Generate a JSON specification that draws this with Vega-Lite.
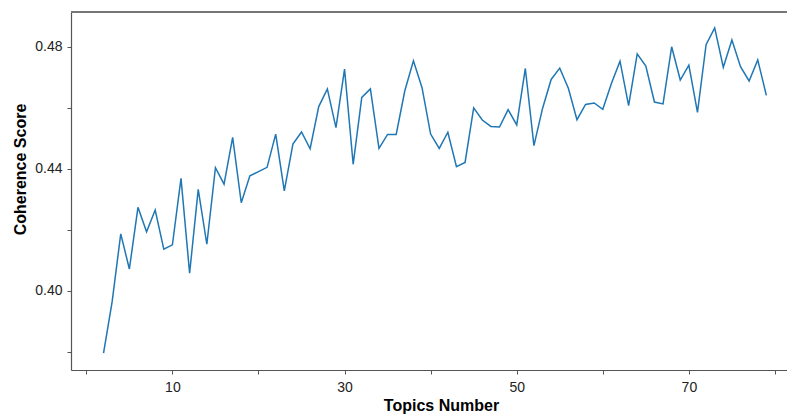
{
  "$schema": "https://vega.github.io/schema/vega-lite/v6.json",
  "autosize": {"type": "none"},
  "padding": {"left": 71, "top": 12, "right": 0, "bottom": 44},
  "width": 716,
  "height": 358,
  "background": "white",
  "config": {
    "view": {"stroke": null},
    "font": "Liberation Sans",
    "axis": {
      "grid": false,
      "domainColor": "#555555",
      "domainWidth": 1.2,
      "tickColor": "#555555",
      "tickWidth": 1,
      "tickSize": 4,
      "labelFont": "Liberation Sans",
      "labelFontSize": 14,
      "labelColor": "#222222",
      "titleFont": "Liberation Sans",
      "titleFontSize": 16,
      "titleFontWeight": "bold",
      "titleColor": "#000000"
    }
  },
  "data": {
    "values": [
      {"topics": 2, "coherence": 0.3796},
      {"topics": 3, "coherence": 0.3965},
      {"topics": 4, "coherence": 0.4187},
      {"topics": 5, "coherence": 0.4072},
      {"topics": 6, "coherence": 0.4274},
      {"topics": 7, "coherence": 0.4194},
      {"topics": 8, "coherence": 0.4265},
      {"topics": 9, "coherence": 0.4137},
      {"topics": 10, "coherence": 0.4151},
      {"topics": 11, "coherence": 0.4369},
      {"topics": 12, "coherence": 0.4058},
      {"topics": 13, "coherence": 0.4333},
      {"topics": 14, "coherence": 0.4153},
      {"topics": 15, "coherence": 0.4404},
      {"topics": 16, "coherence": 0.4350},
      {"topics": 17, "coherence": 0.4503},
      {"topics": 18, "coherence": 0.4289},
      {"topics": 19, "coherence": 0.4377},
      {"topics": 20, "coherence": 0.4391},
      {"topics": 21, "coherence": 0.4405},
      {"topics": 22, "coherence": 0.4514},
      {"topics": 23, "coherence": 0.4328},
      {"topics": 24, "coherence": 0.4481},
      {"topics": 25, "coherence": 0.4521},
      {"topics": 26, "coherence": 0.4466},
      {"topics": 27, "coherence": 0.4604},
      {"topics": 28, "coherence": 0.4662},
      {"topics": 29, "coherence": 0.4535},
      {"topics": 30, "coherence": 0.4727},
      {"topics": 31, "coherence": 0.4415},
      {"topics": 32, "coherence": 0.4634},
      {"topics": 33, "coherence": 0.4662},
      {"topics": 34, "coherence": 0.4467},
      {"topics": 35, "coherence": 0.4513},
      {"topics": 36, "coherence": 0.4513},
      {"topics": 37, "coherence": 0.4656},
      {"topics": 38, "coherence": 0.4754},
      {"topics": 39, "coherence": 0.4666},
      {"topics": 40, "coherence": 0.4514},
      {"topics": 41, "coherence": 0.4467},
      {"topics": 42, "coherence": 0.4520},
      {"topics": 43, "coherence": 0.4407},
      {"topics": 44, "coherence": 0.4421},
      {"topics": 45, "coherence": 0.4600},
      {"topics": 46, "coherence": 0.4560},
      {"topics": 47, "coherence": 0.4539},
      {"topics": 48, "coherence": 0.4537},
      {"topics": 49, "coherence": 0.4594},
      {"topics": 50, "coherence": 0.4544},
      {"topics": 51, "coherence": 0.4729},
      {"topics": 52, "coherence": 0.4476},
      {"topics": 53, "coherence": 0.4598},
      {"topics": 54, "coherence": 0.4693},
      {"topics": 55, "coherence": 0.4730},
      {"topics": 56, "coherence": 0.4664},
      {"topics": 57, "coherence": 0.4561},
      {"topics": 58, "coherence": 0.4611},
      {"topics": 59, "coherence": 0.4616},
      {"topics": 60, "coherence": 0.4595},
      {"topics": 61, "coherence": 0.4680},
      {"topics": 62, "coherence": 0.4753},
      {"topics": 63, "coherence": 0.4607},
      {"topics": 64, "coherence": 0.4777},
      {"topics": 65, "coherence": 0.4737},
      {"topics": 66, "coherence": 0.4619},
      {"topics": 67, "coherence": 0.4613},
      {"topics": 68, "coherence": 0.4800},
      {"topics": 69, "coherence": 0.4691},
      {"topics": 70, "coherence": 0.4740},
      {"topics": 71, "coherence": 0.4585},
      {"topics": 72, "coherence": 0.4807},
      {"topics": 73, "coherence": 0.4862},
      {"topics": 74, "coherence": 0.4733},
      {"topics": 75, "coherence": 0.4822},
      {"topics": 76, "coherence": 0.4735},
      {"topics": 77, "coherence": 0.4688},
      {"topics": 78, "coherence": 0.4757},
      {"topics": 79, "coherence": 0.4641}
    ]
  },
  "layer": [
    {
      "mark": {"type": "rule", "color": "#777777", "strokeWidth": 1.2},
      "encoding": {"y": {"datum": 0.4914, "type": "quantitative"}}
    },
    {
      "mark": {"type": "line", "color": "#1f77b4", "strokeWidth": 1.5},
      "encoding": {
        "x": {
          "field": "topics",
          "type": "quantitative",
          "scale": {"domain": [-1.78, 81.4], "nice": false, "zero": false},
          "axis": {
            "title": "Topics Number",
            "values": [0, 10, 20, 30, 40, 50, 60, 70, 80],
            "labelExpr": "datum.value % 20 == 10 ? datum.label : ''",
            "labelPadding": 6,
            "titleX": 370,
            "titleY": 40,
            "titleAlign": "center",
            "titleBaseline": "alphabetic"
          }
        },
        "y": {
          "field": "coherence",
          "type": "quantitative",
          "scale": {"domain": [0.3741, 0.4914], "nice": false, "zero": false},
          "axis": {
            "title": "Coherence Score",
            "values": [0.38, 0.40, 0.42, 0.44, 0.46, 0.48],
            "format": ".2f",
            "labelExpr": "round(datum.value * 100) % 4 == 0 ? datum.label : ''",
            "labelPadding": 5,
            "titleX": -46,
            "titleY": 157,
            "titleAngle": -90,
            "titleAlign": "center",
            "titleBaseline": "alphabetic"
          }
        }
      }
    }
  ]
}
